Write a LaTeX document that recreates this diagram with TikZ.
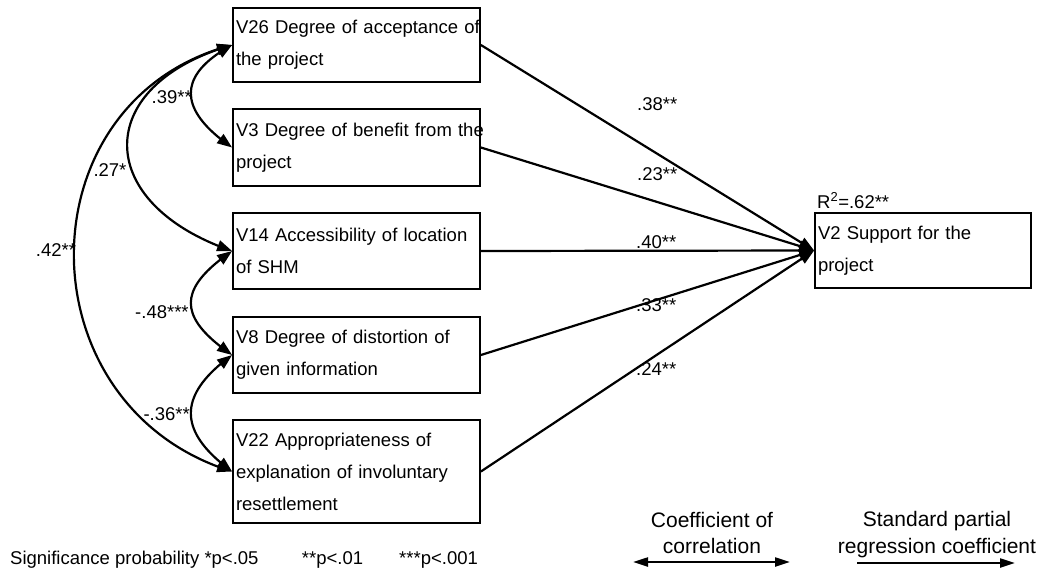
\documentclass[tikz,border=0pt]{standalone}
\usepackage{fontspec}
\setmainfont{Liberation Sans}
\usetikzlibrary{arrows.meta,bending}

% text styles: box text and labels, legend text
\newcommand{\diagfont}{\fontsize{18.5}{32}\selectfont\parindent=0pt\relax}
\newcommand{\legfont}{\fontsize{21}{26.5}\selectfont\parindent=0pt\relax}
% a fully justified line inside a box
\newcommand{\jline}[1]{\makebox[\hsize][s]{#1}}

\begin{document}
\begin{tikzpicture}[x=1pt,y=-1pt,
  varbox/.style={draw, line width=1.8pt, inner xsep=3pt, inner ysep=0pt,
                 align=left, font=\diagfont},
  lbl/.style={anchor=base west, inner sep=0pt, font=\diagfont},
  tipshape/.tip={Triangle[length=15pt,width=11pt]},
  legtip/.tip={Triangle[length=15pt,width=9pt]},
  corr/.style={line width=2.2pt, tipshape-tipshape},
  reg/.style={line width=2.2pt, -tipshape},
  legcorr/.style={line width=2.2pt, legtip-legtip},
  legreg/.style={line width=2.2pt, -legtip}]

\fill[white] (0,0) rectangle (1042,571);
\useasboundingbox (0,0) rectangle (1042,571);

% explanatory variables
\node[varbox, text width=241pt, minimum height=74pt] (v26) at (356.5,45)
  {\jline{V26 Degree of acceptance of}\\the project};
\node[varbox, text width=241pt, minimum height=77pt] (v3) at (356.5,147.5)
  {\jline{V3 Degree of benefit from the}\\project};
\node[varbox, text width=241pt, minimum height=76pt] (v14) at (356.5,251)
  {\jline{V14 Accessibility of location}\\of SHM};
\node[varbox, text width=241pt, minimum height=76pt] (v8) at (356.5,355)
  {\jline{V8 Degree of distortion of}\\given information};
\node[varbox, text width=241pt, minimum height=103pt] (v22) at (356.5,471.5)
  {\jline{V22 Appropriateness of}\\\jline{explanation of involuntary}\\resettlement};

% dependent variable
\node[varbox, text width=210pt, minimum height=75pt] (v2) at (923,250.5)
  {\jline{V2 Support for the}\\project};
\node[lbl] (r2) at (817,208) {R\textsuperscript{2}=.62**};

% standard partial regression coefficients
\draw[reg] (v26.east) -- (v2.west);
\draw[reg] (v3.east)  -- (v2.west);
\draw[reg] (v14.east) -- (v2.west);
\draw[reg] (v8.east)  -- (v2.west);
\draw[reg] (v22.east) -- (v2.west);
\node[lbl] (b26) at (637,110.5) {.38**};
\node[lbl] (b3)  at (637,180)   {.23**};
\node[lbl] (b14) at (636,248)   {.40**};
\node[lbl] (b8)  at (636,311)   {.33**};
\node[lbl] (b22) at (636,375.5) {.24**};

% coefficients of correlation
\draw[corr] (v26.west) .. controls +(-55,30) and +(-55,-38) .. (v3.west);
\draw[corr] (v26.west) .. controls +(-140,40) and +(-140,-48) .. (v14.west);
\draw[corr] (v26.west) .. controls +(-211,55) and +(-211,-65) .. (v22.west);
\draw[corr] (v14.west) .. controls +(-55,38) and +(-55,-38) .. (v8.west);
\draw[corr] (v8.west)  .. controls +(-55,40) and +(-55,-40) .. (v22.west);
\node[lbl] (c1) at (151.5,103.3) {.39**};
\node[lbl] (c2) at (93.3,176.7)  {.27*};
\node[lbl] (c3) at (35.7,256.7)  {.42**};
\node[lbl] (c4) at (135,318.3)   {-.48***};
\node[lbl] (c5) at (143.3,420)   {-.36**};

% significance levels
\node[lbl] (s1) at (10,564)  {Significance probability *p<.05};
\node[lbl] (s2) at (301.7,564) {**p<.01};
\node[lbl] (s3) at (399,564) {***p<.001};

% legend
\node[anchor=north, inner sep=0pt, align=center, font=\legfont] (lc) at (712,511.7)
  {Coefficient of\\correlation};
\coordinate (lc1) at (633,562);
\coordinate (lc2) at (790,562);
\draw[legcorr] (lc1) -- (lc2);
\node[anchor=north, inner sep=0pt, align=center, font=\legfont] (lr) at (937,511.5)
  {Standard partial\\regression coefficient};
\coordinate (lr1) at (857,563);
\coordinate (lr2) at (1015,563);
\draw[legreg] (lr1) -- (lr2);
\end{tikzpicture}
\end{document}
